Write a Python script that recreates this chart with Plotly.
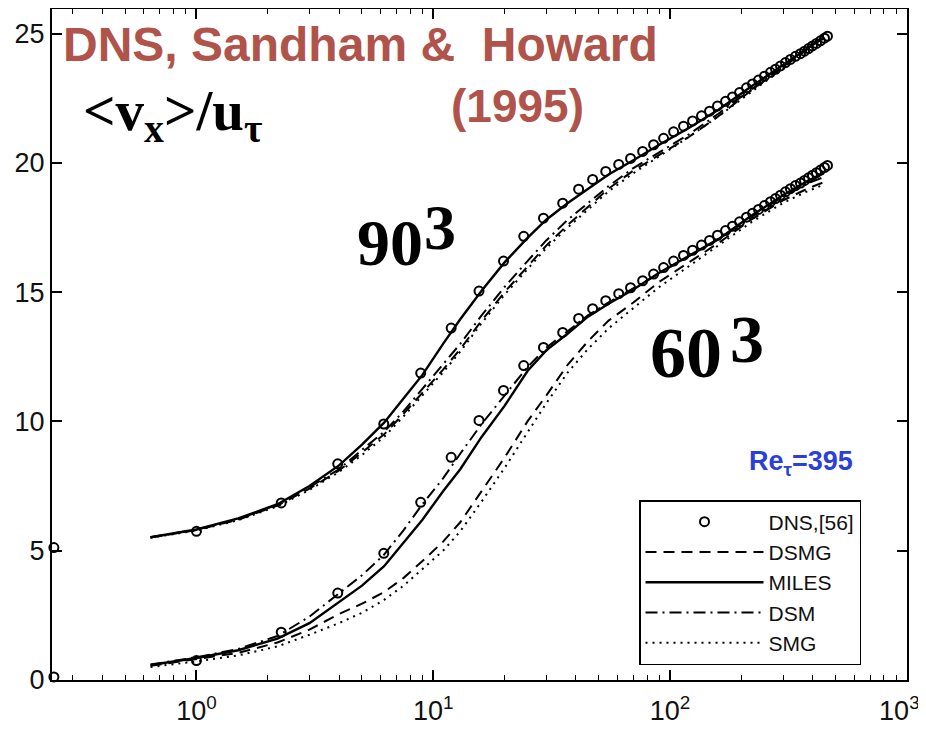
import plotly.graph_objects as go

# ---------------- data ----------------
# DNS (Sandham & Howard 1995), Re_tau = 395 ; lower copy (60^3 panel)
dns_yplus = [0.25, 1.0, 2.28, 3.95, 6.18, 8.85, 11.9, 15.6, 19.8, 24.1,
             29.2, 35.2, 41.1, 47.1, 53.5, 60.7, 68.1, 76.6, 85.2, 93.9,
             103.5, 114.0, 124.5, 135.8, 146.8, 158.6, 171.5, 183.5, 196.5, 210.2,
             222.9, 236.3, 250.4, 265.6, 278.8, 292.6, 307.1, 322.3, 338.4, 355.3,
             369.6, 384.2, 399.3, 415.2, 431.6, 448.7, 462.0]
dns_uplus = [0.12, 0.75, 1.85, 3.36, 4.9, 6.87, 8.61, 10.04, 11.2, 12.16,
             12.86, 13.44, 13.98, 14.36, 14.67, 14.94, 15.17, 15.44, 15.7, 15.95,
             16.2, 16.42, 16.62, 16.82, 17.0, 17.2, 17.38, 17.55, 17.72, 17.9,
             18.05, 18.2, 18.35, 18.5, 18.62, 18.75, 18.88, 19.0, 19.12, 19.22,
             19.32, 19.42, 19.52, 19.62, 19.72, 19.82, 19.9]
offset_90 = 5.0   # the 90^3 set is drawn shifted up by 5

les_yplus = [0.64, 1, 1.5, 2.2, 3, 4, 5, 6.2, 7.5, 9, 11, 13, 16, 20, 25, 30,
             37, 45, 55, 70, 90, 120, 160, 220, 300, 380, 445]

# 60^3 (lower set)
dsmg_60 = [0.55, 0.8, 1.05, 1.45, 1.95, 2.55, 2.95, 3.4, 3.95, 4.6, 5.35, 6.1, 7.3, 8.6,
           10.0, 11.0, 12.2, 13.1, 13.9, 14.6, 15.4, 16.15, 16.9, 17.8, 18.55, 19.0, 19.25]
miles_60 = [0.58, 0.85, 1.15, 1.6, 2.2, 3.0, 3.65, 4.4, 5.3, 6.2, 7.3, 8.15, 9.4, 10.6,
            11.95, 12.75, 13.4, 14.05, 14.55, 15.1, 15.75, 16.4, 17.05, 17.95, 18.75, 19.3, 19.6]
dsm_60 = [0.6, 0.88, 1.2, 1.7, 2.45, 3.35, 4.05, 4.85, 5.8, 6.8, 7.8, 8.75, 9.9, 11.0,
          12.1, 12.85, 13.5, 14.1, 14.6, 15.15, 15.75, 16.4, 17.05, 17.9, 18.7, 19.2, 19.45]
smg_60 = [0.5, 0.72, 0.95, 1.3, 1.75, 2.2, 2.6, 3.1, 3.65, 4.3, 5.0, 5.75, 6.9, 8.2,
          9.6, 10.7, 11.9, 12.8, 13.6, 14.4, 15.2, 16.0, 16.8, 17.7, 18.45, 18.9, 19.15]

# 90^3 (upper set, already including the +5 shift)
dsmg_90 = [5.52, 5.8, 6.2, 6.75, 7.4, 8.1, 8.8, 9.5, 10.3, 11.1, 12.0, 12.8, 13.9, 15.0,
           16.0, 16.8, 17.6, 18.3, 19.0, 19.7, 20.3, 21.0, 21.8, 22.8, 23.7, 24.4, 24.85]
miles_90 = [5.52, 5.82, 6.25, 6.8, 7.5, 8.3, 9.1, 9.95, 10.9, 11.8, 13.0, 13.95, 15.05, 16.15,
            17.1, 17.8, 18.45, 19.0, 19.55, 20.1, 20.7, 21.35, 22.05, 22.95, 23.8, 24.45, 24.85]
dsm_90 = [5.52, 5.82, 6.22, 6.78, 7.45, 8.15, 8.9, 9.6, 10.4, 11.25, 12.2, 13.0, 14.1, 15.2,
          16.2, 17.0, 17.8, 18.45, 19.1, 19.8, 20.4, 21.1, 21.9, 22.85, 23.75, 24.45, 24.85]
smg_90 = [5.5, 5.78, 6.18, 6.72, 7.35, 8.05, 8.7, 9.4, 10.2, 11.0, 11.9, 12.7, 13.8, 14.9,
          15.9, 16.7, 17.5, 18.2, 18.9, 19.6, 20.25, 21.0, 21.8, 22.75, 23.65, 24.35, 24.8]

x_tickvals = [1, 10, 100, 1000]
# the last label sits a little left of its tick in the reference (kept inside the frame)
x_ticktext = ["10<sup>0</sup>", "10<sup>1</sup>", "10<sup>2</sup>",
              "10<sup>3</sup>\u00a0\u00a0"]
x_minor_tickvals = [0.3, 0.4, 0.5, 0.6, 0.7, 0.8, 0.9,
                    2, 3, 4, 5, 6, 7, 8, 9,
                    20, 30, 40, 50, 60, 70, 80, 90,
                    200, 300, 400, 500, 600, 700, 800, 900]
y_tickvals = [0, 5, 10, 15, 20, 25]

legend_names = ["DNS,[56]", "DSMG", "MILES", "DSM", "SMG"]

# ---------------- figure ----------------
fig = go.Figure()

dns_upper = [u + offset_90 for u in dns_uplus]

fig.add_trace(go.Scatter(
    x=dns_yplus, y=dns_uplus, mode="markers", name=legend_names[0],
    legendgroup="dns", cliponaxis=False,
    marker=dict(symbol="circle-open", size=9, color="black", line=dict(width=2))))
fig.add_trace(go.Scatter(
    x=dns_yplus, y=dns_upper, mode="markers", name=legend_names[0],
    legendgroup="dns", showlegend=False, cliponaxis=False,
    marker=dict(symbol="circle-open", size=9, color="black", line=dict(width=2))))

styles = {
    "DSMG": dict(dash="11px,7px", width=2),
    "MILES": dict(dash="solid", width=2.4),
    "DSM": dict(dash="12px,5px,2px,5px", width=2),
    "SMG": dict(dash="2px,5px", width=2),
}
series = [("DSMG", dsmg_60, dsmg_90), ("MILES", miles_60, miles_90),
          ("DSM", dsm_60, dsm_90), ("SMG", smg_60, smg_90)]

for name, lo, up in series:
    st = styles[name]
    fig.add_trace(go.Scatter(
        x=les_yplus, y=lo, mode="lines", name=name, legendgroup=name,
        line=dict(color="black", width=st["width"], dash=st["dash"])))
    fig.add_trace(go.Scatter(
        x=les_yplus, y=up, mode="lines", name=name, legendgroup=name, showlegend=False,
        line=dict(color="black", width=st["width"], dash=st["dash"])))

tick_font = dict(family="Liberation Sans, Arial, sans-serif", size=27, color="#111")

fig.update_xaxes(
    type="log", range=[-0.61, 3.0005], automargin=False,
    tickvals=x_tickvals, ticktext=x_ticktext, ticklabelstandoff=6,
    ticklabeloverflow="allow",
    showline=True, linecolor="black", linewidth=2, mirror="allticks",
    ticks="inside", ticklen=10, tickwidth=1.6, tickcolor="black",
    minor=dict(tickvals=x_minor_tickvals, ticks="inside", ticklen=5, tickwidth=1.4,
               tickcolor="black", showgrid=False),
    showgrid=False, zeroline=False, tickfont=tick_font)
fig.update_yaxes(
    range=[0, 25.95], tickvals=y_tickvals, automargin=False,
    showline=True, linecolor="black", linewidth=2, mirror="allticks",
    ticks="inside", ticklen=10, tickwidth=1.6, tickcolor="black",
    showgrid=False, zeroline=False, tickfont=tick_font)

# page has an 8px body margin: the figure starts at (8, 8) of the window
OFF = 8
W, H = 918, 721
L, R, T, B = 44, 19, 1, 49
pw, ph = W - L - R, H - T - B


def px(sx):
    """window x pixel -> paper fraction"""
    return (sx - OFF - L) / pw


def py(sy):
    """window y pixel -> paper fraction"""
    return (H - B - (sy - OFF)) / ph


red = "#B0534A"
sans = "Liberation Sans, Arial, sans-serif"
serif = "Liberation Serif, Times New Roman, serif"
ann = [
    dict(text="<b>DNS, Sandham &amp;\u00a0 Howard</b>", x=px(360), y=py(45),
         font=dict(family=sans, size=48, color=red), xanchor="center", yanchor="middle"),
    dict(text="<b>(1995)</b>", x=px(517), y=py(106),
         font=dict(family=sans, size=46, color=red), xanchor="center", yanchor="middle"),
    dict(text="<b>&lt;v<sub>x</sub>&gt;/u<sub>\u03c4</sub></b>", x=px(81), y=py(115),
         font=dict(family=serif, size=57, color="black"), xanchor="left", yanchor="middle"),
    dict(text="<b>90</b>", x=px(355), y=py(243),
         font=dict(family=serif, size=66, color="black"), xanchor="left", yanchor="middle"),
    dict(text="<b>3</b>", x=px(422), y=py(228),
         font=dict(family=serif, size=64, color="black"), xanchor="left", yanchor="middle"),
    dict(text="<b>60</b>", x=px(648), y=py(353),
         font=dict(family=serif, size=72, color="black"), xanchor="left", yanchor="middle"),
    dict(text="<b>3</b>", x=px(728), y=py(339),
         font=dict(family=serif, size=68, color="black"), xanchor="left", yanchor="middle"),
    dict(text="<b>Re<sub>\u03c4</sub>=395</b>", x=px(801), y=py(463),
         font=dict(family=sans, size=27, color="#2D3FDB"), xanchor="center", yanchor="middle"),
]
for a in ann:
    a.update(xref="paper", yref="paper", showarrow=False)

fig.update_layout(
    width=W, height=H, margin=dict(l=L, r=R, t=T, b=B, autoexpand=False),
    paper_bgcolor="white", plot_bgcolor="white",
    annotations=ann,
    showlegend=True,
    legend=dict(x=px(639), y=py(500), xanchor="left", yanchor="top",
                bgcolor="white", bordercolor="black", borderwidth=1.5,
                font=dict(family=sans, size=21, color="#111"),
                itemwidth=118, tracegroupgap=0, traceorder="normal"),
)

fig.write_html("out.html")
